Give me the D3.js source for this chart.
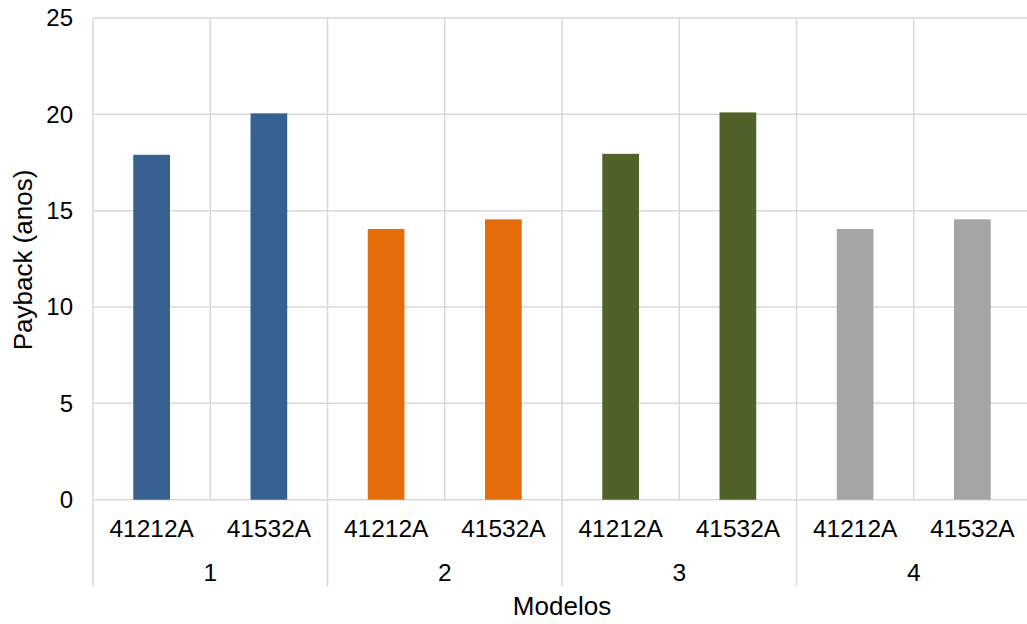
<!DOCTYPE html>
<html>
<head>
<meta charset="utf-8">
<script src="https://cdn.jsdelivr.net/npm/d3@7"></script>
<style>
  html, body { margin: 0; padding: 0; background: #fff; }
  svg { display: block; }
  text { font-family: Arial, "Liberation Sans", sans-serif; fill: #000; }
</style>
</head>
<body>
<svg id="chart" width="1027" height="624"></svg>
<script>
// Payback per model group and inverter type
const models = ["1", "2", "3", "4"];
const inverters = ["41212A", "41532A"];
const payback1 = [17.9, 20.05];
const payback2 = [14.05, 14.55];
const payback3 = [17.95, 20.1];
const payback4 = [14.05, 14.55];
const paybackByModel = [payback1, payback2, payback3, payback4];
const modelColors = ["#376092", "#E46C0A", "#4F6228", "#A5A5A5"];
const yTicks = [0, 5, 10, 15, 20, 25];

const rows = [];
models.forEach((m, i) => {
  inverters.forEach((inv, j) => {
    rows.push({ model: m, inverter: inv, key: m + "|" + inv, value: paybackByModel[i][j], color: modelColors[i] });
  });
});

const svg = d3.select("#chart");
const plotLeft = 93, plotRight = 1031, plotTop = 18, plotBottom = 499.7;
const gridColor = "#D9D9D9";

const x = d3.scaleBand().domain(rows.map(d => d.key)).range([plotLeft, plotRight]).padding(0);
const y = d3.scaleLinear().domain([0, 25]).range([plotBottom, plotTop]);

// horizontal gridlines
svg.append("g").selectAll("line").data(yTicks).join("line")
  .attr("x1", plotLeft).attr("x2", plotRight)
  .attr("y1", d => y(d)).attr("y2", d => y(d))
  .attr("stroke", gridColor).attr("stroke-width", 1.5);

// vertical gridlines between every bar slot; group boundaries run down through the label rows
const boundaries = rows.map(d => x(d.key)).concat([plotRight]);
svg.append("g").selectAll("line").data(boundaries).join("line")
  .attr("x1", d => d).attr("x2", d => d)
  .attr("y1", plotTop)
  .attr("y2", (d, i) => (i % 2 === 0 ? 586.5 : plotBottom))
  .attr("stroke", gridColor).attr("stroke-width", 1.5);

// bars
const barW = x.bandwidth() * 0.313;
svg.append("g").selectAll("rect").data(rows).join("rect")
  .attr("x", d => x(d.key) + (x.bandwidth() - barW) / 2)
  .attr("width", barW)
  .attr("y", d => y(d.value))
  .attr("height", d => y(0) - y(d.value))
  .attr("fill", d => d.color);

// y axis labels
const yAxis = d3.axisLeft(y).tickValues(yTicks).tickSize(0).tickPadding(0);
const gy = svg.append("g").attr("transform", `translate(${plotLeft - 20},0)`).call(yAxis);
gy.select(".domain").remove();
gy.selectAll("text").attr("font-size", 24).attr("fill", "#000")
  .attr("font-family", "Arial, 'Liberation Sans', sans-serif");

// inverter labels
svg.append("g").selectAll("text").data(rows).join("text")
  .attr("x", d => x(d.key) + x.bandwidth() / 2)
  .attr("y", 528.5)
  .attr("dy", "0.35em")
  .attr("text-anchor", "middle")
  .attr("font-size", 24.5)
  .text(d => d.inverter);

// model labels
svg.append("g").selectAll("text").data(models).join("text")
  .attr("x", m => x(m + "|" + inverters[1]))
  .attr("y", 572)
  .attr("dy", "0.35em")
  .attr("text-anchor", "middle")
  .attr("font-size", 24.5)
  .text(m => m);

// axis titles
svg.append("text")
  .attr("x", 562).attr("y", 606).attr("dy", "0.35em")
  .attr("text-anchor", "middle").attr("font-size", 26)
  .text("Modelos");
svg.append("text")
  .attr("transform", "translate(23,260) rotate(-90)")
  .attr("dy", "0.35em")
  .attr("text-anchor", "middle").attr("font-size", 26)
  .text("Payback (anos)");
</script>
</body>
</html>
